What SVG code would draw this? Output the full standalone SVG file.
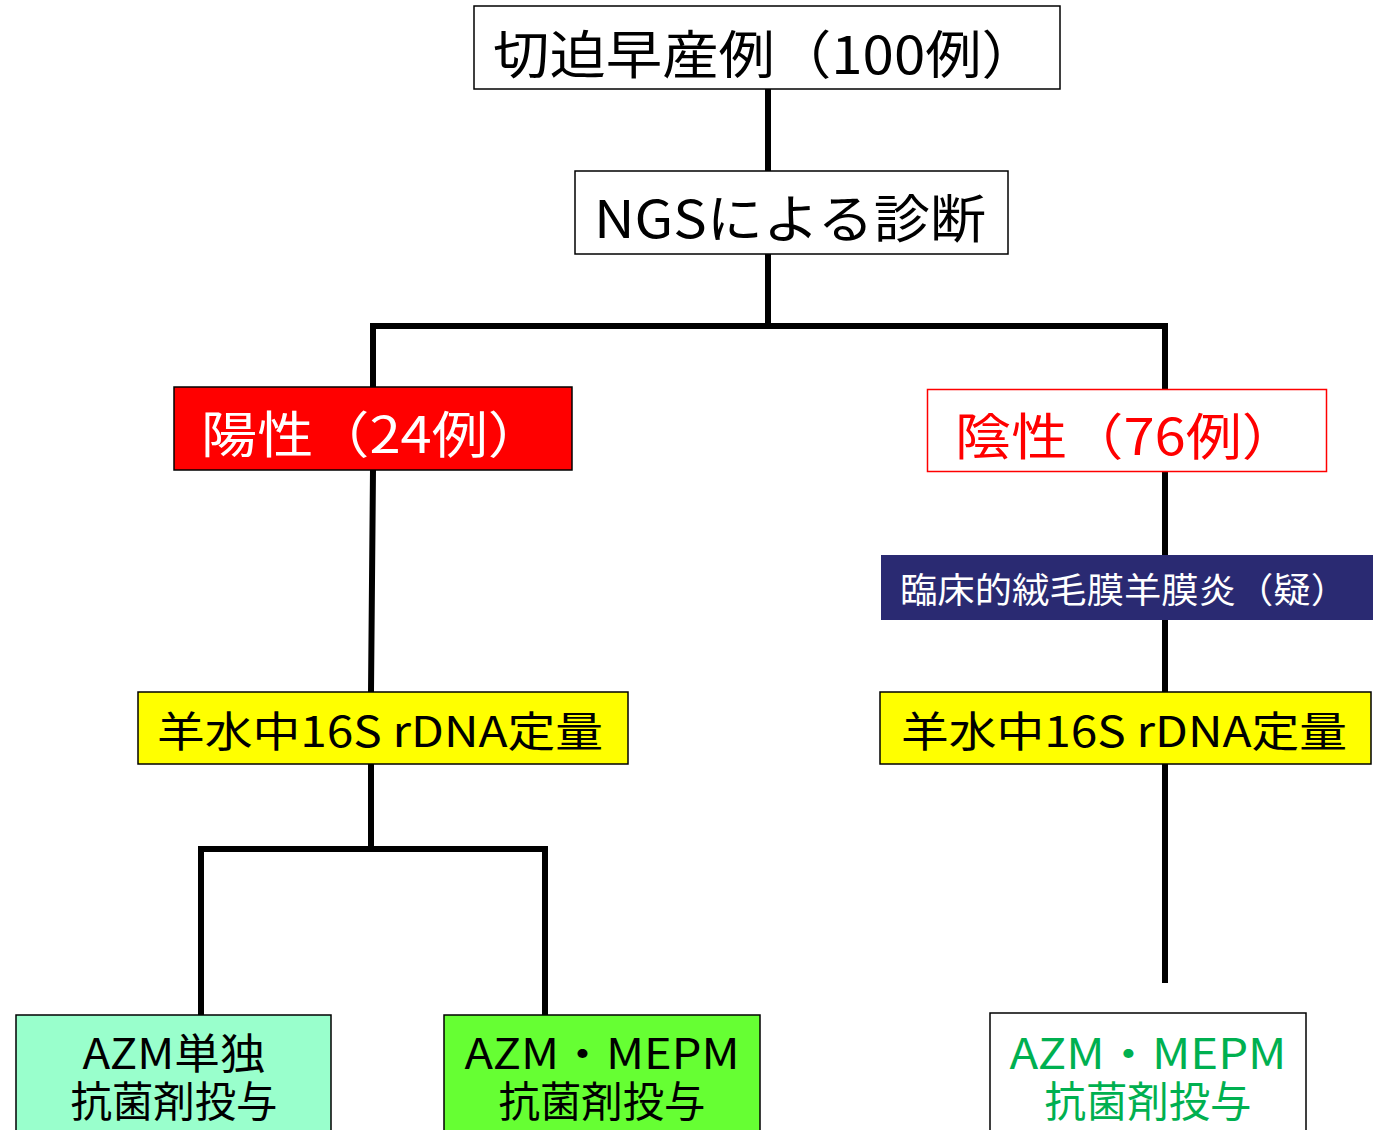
<svg xmlns="http://www.w3.org/2000/svg" width="1377" height="1130" viewBox="0 0 1377 1130">
<style>
text{font-family:"Noto Sans CJK JP","Noto Sans",sans-serif;}
.box{stroke:#000;stroke-width:1.5;}
.ln{stroke:#000;stroke-width:6;fill:none;stroke-linecap:square;}
</style>
<rect width="1377" height="1130" fill="#fff"/>
<g id="connectors">
<path class="ln" d="M768 89V171M768 254V326M373 326H1165M373 326V387M1165 326V389"/>
<path class="ln" d="M373 470L371 692M371 764V849M201 849H545M201 849V1015M545 849V1015"/>
<path class="ln" d="M1165 472V692M1165 764V980"/>
</g>
<g id="n_top">
<rect class="box" x="474" y="6" width="586" height="83" fill="#fff"/>
<text x="493" y="74" font-size="52" textLength="545" lengthAdjust="spacingAndGlyphs">切迫早産例（100例）</text>
</g>
<g id="n_ngs">
<rect class="box" x="575" y="171" width="433" height="83" fill="#fff"/>
<text x="594" y="238" font-size="52" textLength="392" lengthAdjust="spacingAndGlyphs">NGSによる診断</text>
</g>
<g id="n_pos">
<rect class="box" x="174" y="387" width="398" height="83" fill="#ff0000"/>
<text x="201" y="453" font-size="50" fill="#fff" textLength="343" lengthAdjust="spacingAndGlyphs">陽性（24例）</text>
</g>
<g id="n_neg">
<rect x="927.5" y="389.5" width="399" height="82" fill="#fff" stroke="#ff0000" stroke-width="1.5"/>
<text x="955" y="455" font-size="50" fill="#ff0000" textLength="343" lengthAdjust="spacingAndGlyphs">陰性（76例）</text>
</g>
<g id="n_cam">
<rect x="881" y="555" width="492" height="65" fill="#2a2a72"/>
<text x="900" y="603" font-size="35" fill="#fff" textLength="448" lengthAdjust="spacingAndGlyphs">臨床的絨毛膜羊膜炎（疑）</text>
</g>
<g id="n_dna_l">
<rect class="box" x="138" y="692" width="490" height="72" fill="#ffff00"/>
<text x="157" y="747" font-size="42" textLength="446" lengthAdjust="spacingAndGlyphs">羊水中16S rDNA定量</text>
</g>
<g id="n_dna_r">
<rect class="box" x="880" y="692" width="491" height="72" fill="#ffff00"/>
<text x="901" y="747" font-size="42" textLength="446" lengthAdjust="spacingAndGlyphs">羊水中16S rDNA定量</text>
</g>
<g id="n_azm">
<rect class="box" x="16" y="1015" width="315" height="125" fill="#99ffcc"/>
<text x="174" y="1069" font-size="42" text-anchor="middle" textLength="183" lengthAdjust="spacingAndGlyphs">AZM単独</text>
<text x="174" y="1117" font-size="42" text-anchor="middle" textLength="207" lengthAdjust="spacingAndGlyphs">抗菌剤投与</text>
</g>
<g id="n_azm_mepm">
<rect class="box" x="444" y="1015" width="316" height="125" fill="#66ff33"/>
<text x="602" y="1069" font-size="42" text-anchor="middle" textLength="275" lengthAdjust="spacingAndGlyphs">AZM・MEPM</text>
<text x="602" y="1117" font-size="42" text-anchor="middle" textLength="207" lengthAdjust="spacingAndGlyphs">抗菌剤投与</text>
</g>
<g id="n_azm_mepm_r">
<rect class="box" x="990" y="1013" width="316" height="127" fill="#fff"/>
<text x="1148" y="1069" font-size="42" fill="#00b050" text-anchor="middle" textLength="277" lengthAdjust="spacingAndGlyphs">AZM・MEPM</text>
<text x="1148" y="1117" font-size="42" fill="#00b050" text-anchor="middle" textLength="207" lengthAdjust="spacingAndGlyphs">抗菌剤投与</text>
</g>
</svg>
